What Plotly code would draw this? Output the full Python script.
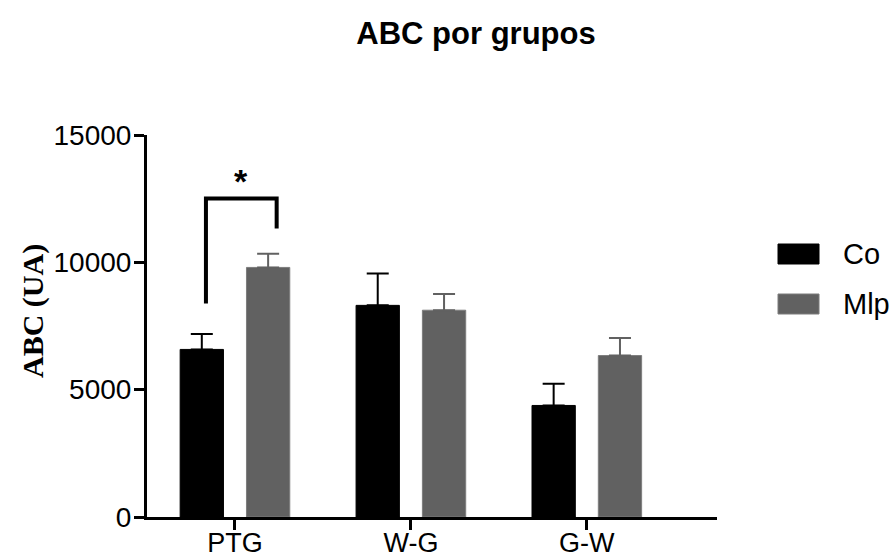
import plotly.graph_objects as go

categories = ["PTG", "W-G", "G-W"]
series_names = ["Co", "Mlp"]
co_values = [6580, 8310, 4380]
co_errors = [610, 1250, 850]
mlp_values = [9800, 8120, 6340]
mlp_errors = [535, 640, 690]
y_ticks = [0, 5000, 10000, 15000]
title_text = "ABC por grupos"
y_title = "ABC (UA)"
sig_label = "*"

CO_COLOR = "#000000"
MLP_COLOR = "#616161"

fig = go.Figure()
fig.add_trace(go.Bar(
    x=categories, y=co_values, name=series_names[0],
    marker=dict(color=CO_COLOR, line=dict(color=CO_COLOR, width=1)),
    error_y=dict(type="data", array=co_errors, arrayminus=[0]*3, symmetric=False,
                 color=CO_COLOR, thickness=2, width=11),
    showlegend=False,
))
fig.add_trace(go.Bar(
    x=categories, y=mlp_values, name=series_names[1],
    marker=dict(color=MLP_COLOR, line=dict(color="#7d7d7d", width=1)),
    error_y=dict(type="data", array=mlp_errors, arrayminus=[0]*3, symmetric=False,
                 color=MLP_COLOR, thickness=2, width=11),
    showlegend=False,
))

W, H = 891, 560
L, R, T, B = 147, 174, 135, 43
pw = W - L - R
ph = H - T - B

def px_x(p):
    return (p - L) / pw

def px_y(p):
    return (H - B - p) / ph

# significance bracket (data coords on category axis)
fig.add_shape(type="path",
              path="M -0.165,8385 L -0.165,12511 L 0.237,12511 L 0.237,11332",
              xref="x", yref="y", line=dict(color="black", width=4))
fig.add_annotation(x=0.033, y=12380, xref="x", yref="y", text="<b>" + sig_label + "</b>",
                   showarrow=False, yanchor="bottom",
                   font=dict(family="Liberation Sans, Arial", size=34, color="black"))

# manual legend
legend_items = [(series_names[0], CO_COLOR, 254), (series_names[1], MLP_COLOR, 304)]
for name, col, yc in legend_items:
    fig.add_shape(type="rect", xref="paper", yref="paper",
                  x0=px_x(778), x1=px_x(819), y0=px_y(yc + 10), y1=px_y(yc - 10),
                  fillcolor=col, line=dict(color=col if col == CO_COLOR else "#7d7d7d", width=1))
    fig.add_annotation(x=px_x(841), y=px_y(yc), xref="paper", yref="paper",
                       text=name, showarrow=False, xanchor="left", yanchor="middle",
                       font=dict(family="Liberation Sans, Arial", size=29, color="black"))

# y-axis title
fig.add_annotation(x=px_x(33), y=px_y(311), xref="paper", yref="paper",
                   text="<b>" + y_title + "</b>", textangle=-90, showarrow=False,
                   xanchor="center", yanchor="middle",
                   font=dict(family="Liberation Serif, Times New Roman", size=30, color="black"))

fig.update_layout(
    width=W, height=H,
    margin=dict(l=L, r=R, t=T, b=B, autoexpand=False),
    paper_bgcolor="white", plot_bgcolor="white",
    barmode="group", bargap=0.246, bargroupgap=0.347,
    title=dict(text="<b>" + title_text + "</b>", x=476 / W, xanchor="center",
               xref="container", y=1 - 33 / H, yanchor="middle", yref="container",
               font=dict(family="Liberation Sans, Arial", size=31, color="black")),
    font=dict(family="Liberation Sans, Arial", color="black"),
    xaxis=dict(range=[-0.5, 2.74], showline=True, linecolor="black", linewidth=3,
               ticks="outside", ticklen=10, tickwidth=3, tickcolor="black",
               ticklabelstandoff=-10,
               tickfont=dict(size=27), showgrid=False, zeroline=False, fixedrange=True),
    yaxis=dict(range=[0, 15000], tickvals=y_ticks, ticktext=[str(v) for v in y_ticks],
               showline=True, linecolor="black", linewidth=3,
               ticks="outside", ticklen=10, tickwidth=3, tickcolor="black",
               ticklabelstandoff=-3,
               tickfont=dict(size=28), showgrid=False, zeroline=False, fixedrange=True),
)

fig.write_html("out.html")
